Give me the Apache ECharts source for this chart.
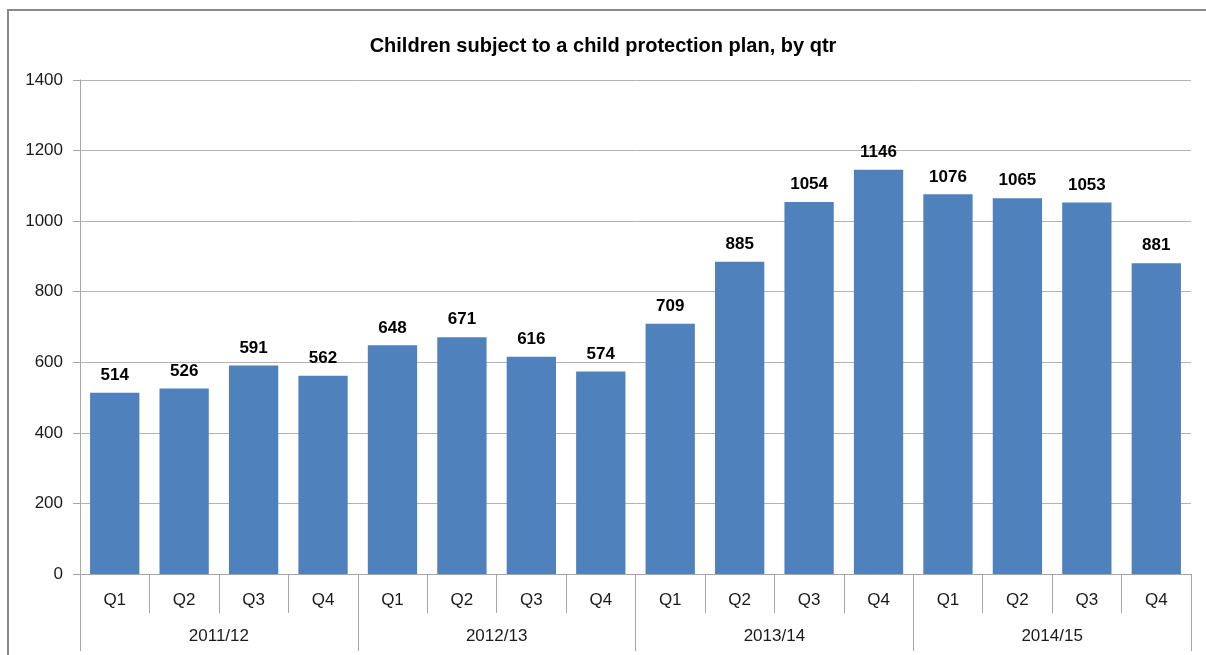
<!DOCTYPE html>
<html>
<head>
<meta charset="utf-8">
<script src="https://cdn.jsdelivr.net/npm/echarts@6/dist/echarts.min.js"></script>
<style>
html,body{margin:0;padding:0;background:#fff;}
#chart{width:1206px;height:655px;}
</style>
</head>
<body>
<div id="chart"></div>
<script>
const quarters = ['Q1','Q2','Q3','Q4','Q1','Q2','Q3','Q4','Q1','Q2','Q3','Q4','Q1','Q2','Q3','Q4'];
const years = ['2011/12','2012/13','2013/14','2014/15'];
const children = [514,526,591,562,648,671,616,574,709,885,1054,1146,1076,1065,1053,881];
const yTicks = {min:0, max:1400, interval:200};
const titleText = 'Children subject to a child protection plan, by qtr';

const FONT = '"Liberation Sans", Arial, sans-serif';
const chart = echarts.init(document.getElementById('chart'), null, {renderer:'canvas'});
chart.setOption({
  backgroundColor:'#fff',
  animation:false,
  title:{
    text:titleText,
    left:'center', top:31,
    textStyle:{fontFamily:FONT, fontSize:20, fontWeight:'bold', color:'#000'}
  },
  graphic:[{
    type:'rect', shape:{x:8, y:10, width:1230, height:700},
    style:{fill:null, stroke:'#888', lineWidth:2}, silent:true, z:-1
  }],
  grid:{left:80, right:15, top:80, bottom:81, containLabel:false},
  xAxis:[{
    type:'category', data:quarters, position:'bottom',
    axisLine:{show:true, lineStyle:{color:'#a6a6a6', width:1}},
    axisTick:{show:true, interval:0, length:39, lineStyle:{color:'#a6a6a6'}},
    axisLabel:{interval:0, margin:18, fontFamily:FONT, fontSize:17, color:'#1a1a1a'}
  },{
    type:'category', data:years, position:'bottom', gridIndex:0,
    axisLine:{show:false},
    axisTick:{show:true, interval:0, length:77, lineStyle:{color:'#a6a6a6'}},
    axisLabel:{interval:0, margin:54, fontFamily:FONT, fontSize:17, color:'#1a1a1a'}
  }],
  yAxis:{
    type:'value', min:yTicks.min, max:yTicks.max, interval:yTicks.interval,
    axisLine:{show:true, lineStyle:{color:'#a6a6a6'}},
    axisTick:{show:true, length:7, inside:false, lineStyle:{color:'#a6a6a6'}},
    axisLabel:{margin:17, fontFamily:FONT, fontSize:17, color:'#1a1a1a', formatter:v => String(v)},
    splitLine:{show:true, lineStyle:{color:'#b3b3b3', width:1}}
  },
  series:[{
    type:'bar', data:children, xAxisIndex:0,
    barCategoryGap:'29%',
    itemStyle:{color:'#4F81BD'},
    label:{show:true, position:'top', distance:9, fontFamily:FONT, fontSize:17, fontWeight:'bold', color:'#000'}
  }]
});
</script>
</body>
</html>
